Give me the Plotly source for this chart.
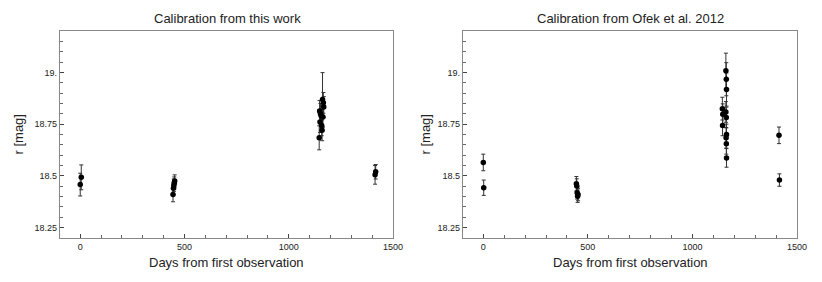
import plotly.graph_objects as go
from plotly.subplots import make_subplots

# Left panel: Calibration from this work
days_L = [0, 5, 445, 447, 449, 451, 453, 1146, 1148, 1150, 1152, 1155, 1158, 1160, 1162, 1164, 1166, 1168, 1414, 1417]
mag_L = [18.458, 18.493, 18.41, 18.44, 18.455, 18.465, 18.475, 18.684, 18.814, 18.76, 18.80, 18.79, 18.744, 18.72,
         18.869, 18.785, 18.853, 18.833, 18.505, 18.52]
err_L = [0.055, 0.06, 0.035, 0.03, 0.03, 0.03, 0.03, 0.058, 0.05, 0.05, 0.05, 0.05, 0.05, 0.05,
         0.13, 0.05, 0.05, 0.05, 0.045, 0.035]

# Right panel: Calibration from Ofek et al. 2012
days_R = [0, 2, 445, 447, 449, 451, 453, 1160, 1162, 1163, 1143, 1160, 1145, 1162, 1144, 1163, 1161, 1162, 1163,
          1414, 1416]
mag_R = [18.565, 18.443, 18.462, 18.451, 18.418, 18.402, 18.41, 19.008, 18.967, 18.917, 18.825, 18.809, 18.798,
         18.782, 18.744, 18.70, 18.684, 18.655, 18.587, 18.696, 18.48]
err_R = [0.04, 0.037, 0.035, 0.035, 0.03, 0.03, 0.03, 0.085, 0.08, 0.08, 0.055, 0.05, 0.05, 0.05, 0.05, 0.05,
         0.05, 0.05, 0.045, 0.04, 0.03]

titles = ["Calibration from this work", "Calibration from Ofek et al. 2012"]
x_title = "Days from first observation"
y_title = "r [mag]"
ytick_vals = [18.25, 18.5, 18.75, 19.0]
ytick_text = ["18.25", "18.5", "18.75", "19."]
xtick_vals = [0, 500, 1000, 1500]
xtick_text = ["0", "500", "1000", "1500"]

FONT = "Liberation Sans, Arial, sans-serif"
TXT = "#222222"

fig = make_subplots(rows=1, cols=2, horizontal_spacing=0.0)

for col, (d, m, e) in enumerate([(days_L, mag_L, err_L), (days_R, mag_R, err_R)], start=1):
    fig.add_trace(go.Scatter(
        x=d, y=m, mode="markers",
        marker=dict(color="black", size=5.5),
        error_y=dict(type="data", array=e, visible=True, color="#333333", thickness=1, width=2),
        showlegend=False,
    ), row=1, col=col)

W, H = 822, 282
L, R, T, B = 60, 25, 31, 44
pw = W - L - R
ph = H - T - B
dom1 = [0, (393 - 60) / pw]
dom2 = [(463 - 60) / pw, 1]

axis_common = dict(
    showline=True, linecolor="#888888", linewidth=1.2, mirror=True,
    showgrid=False, zeroline=False, automargin=False,
    ticks="inside", ticklen=4, tickcolor="#444444", tickwidth=1,
    tickfont=dict(family=FONT, size=9, color=TXT),
)

for i, dom in enumerate([dom1, dom2], start=1):
    xk = "xaxis" if i == 1 else "xaxis2"
    yk = "yaxis" if i == 1 else "yaxis2"
    fig.layout[xk].update(
        domain=dom, range=[-97, 1500],
        tickmode="array", tickvals=xtick_vals, ticktext=xtick_text,
        minor=dict(tickmode="linear", tick0=0, dtick=100, ticks="inside", ticklen=2.5,
                   tickcolor="#666666", showgrid=False),
        **axis_common,
    )
    fig.layout[yk].update(
        domain=[0, 1], range=[18.2, 19.2],
        tickmode="array", tickvals=ytick_vals, ticktext=ytick_text,
        minor=dict(tickmode="linear", tick0=18.2, dtick=0.05, ticks="inside", ticklen=2.5,
                   tickcolor="#666666", showgrid=False),
        **axis_common,
    )

def px_x(p):
    return (p - L) / pw

def px_y(p):
    return 1 - (p - T) / ph

title_cx = [227, 630]
ytitle_cx = [18, 425]
for i in range(2):
    dom = dom1 if i == 0 else dom2
    cx = (dom[0] + dom[1]) / 2
    fig.add_annotation(text=titles[i], x=px_x(title_cx[i]), y=px_y(19), xref="paper", yref="paper",
                       xanchor="center", yanchor="middle", showarrow=False,
                       font=dict(family=FONT, size=13, color=TXT))
    fig.add_annotation(text=x_title, x=cx, y=px_y(262), xref="paper", yref="paper",
                       xanchor="center", yanchor="middle", showarrow=False,
                       font=dict(family=FONT, size=13, color=TXT))
    fig.add_annotation(text=y_title, x=px_x(ytitle_cx[i]), y=0.5, xref="paper", yref="paper",
                       xanchor="center", yanchor="middle", textangle=-90, showarrow=False,
                       font=dict(family=FONT, size=13, color=TXT))

fig.update_layout(
    width=W, height=H,
    margin=dict(l=L, r=R, t=T, b=B),
    paper_bgcolor="white", plot_bgcolor="white",
)

fig.write_html("out.html", config={"displayModeBar": False},
               post_script="document.body.style.margin='0';document.body.style.overflow='hidden';")
